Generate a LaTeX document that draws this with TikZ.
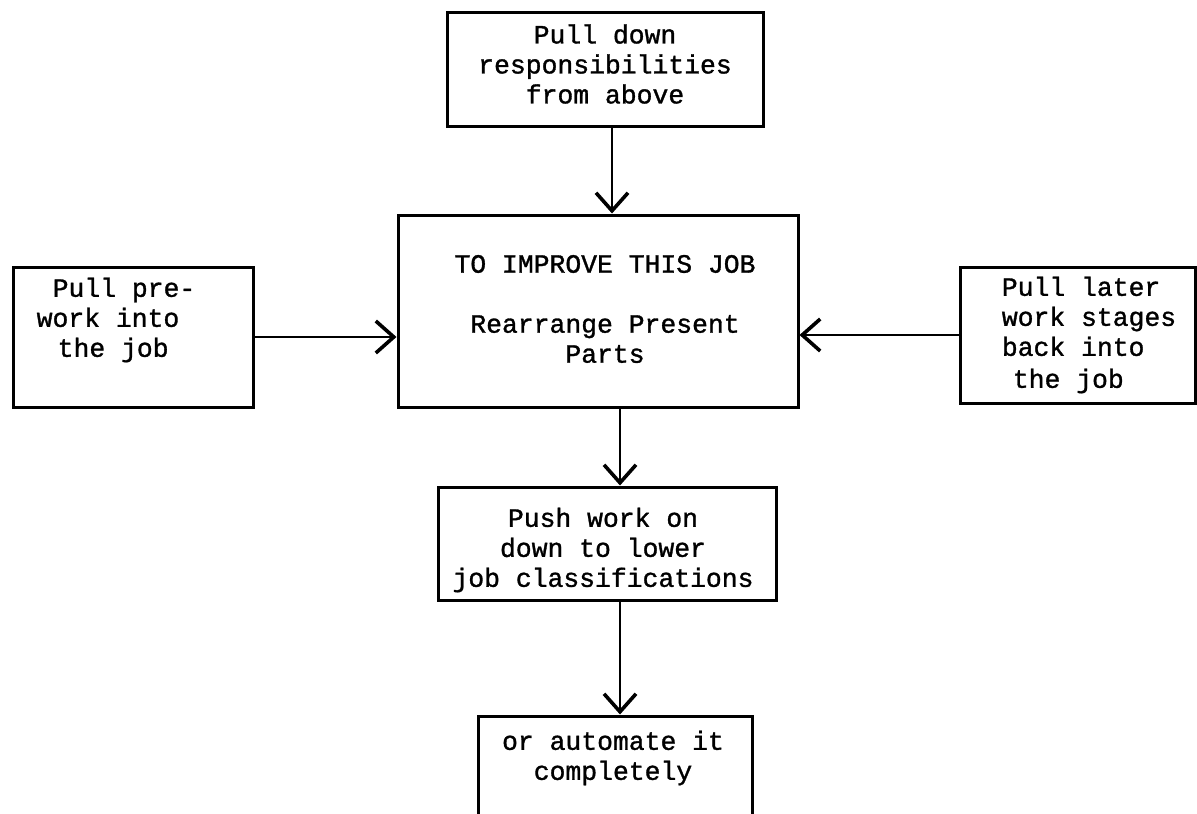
\documentclass[tikz,border=0pt]{standalone}
\usepackage{fontspec}
\setmainfont{Liberation Mono}
\newfontfamily\typew{Liberation Mono}[FakeBold=1.2]
\usetikzlibrary{arrows.meta}
\begin{document}
\begin{tikzpicture}[x=0.5pt,y=-0.5pt,
  box/.style={draw, line width=1.5pt, inner sep=0pt, rectangle},
  lbl/.style={font=\typew\fontsize{13.2pt}{15pt}\selectfont, inner sep=0pt},
  arr/.style={line width=1.4pt, -{Straight Barb[length=9pt,width=16pt,line width=1.8pt]}}]
\useasboundingbox (0,0) rectangle (1197,813);
\clip (0,0) rectangle (1197,813);
% boxes
\node[box, minimum width=158pt, minimum height=56.5pt] (top) at (605,69.5) {};
\node[box, minimum width=200pt, minimum height=96pt] (ctr) at (598,311) {};
\node[box, minimum width=120pt, minimum height=70pt] (lb) at (133,337) {};
\node[box, minimum width=117.5pt, minimum height=68pt] (rb) at (1077.5,335) {};
\node[box, minimum width=169pt, minimum height=56.5pt] (push) at (607,543.5) {};
\node[box, minimum width=137pt, minimum height=70pt] (bot) at (615,786) {};
% texts
\node[lbl, align=center] (topt) at (605,64) {Pull down\\responsibilities\\from above};
\node[lbl, align=center] (ctrt) at (605,309) {TO IMPROVE THIS JOB\\[15pt]Rearrange Present\\Parts};
\node[lbl, align=left] (lbt) at (116,320) {\hspace*{8pt}Pull pre-\\work into\\\hspace*{10.5pt}the job};
\node[lbl, align=left] (rbt) at (1089,335) {Pull later\\work stages\\back into\\[1pt]\hspace*{5.5pt}the job};
\node[lbl, align=center] (pusht) at (603,550) {Push work on\\down to lower\\job classifications};
\node[lbl, align=center] (bott) at (613,758) {or automate it\\completely};
% connectors
\draw[arr] ([xshift=3.5pt]top.south) -- ([xshift=3.5pt]top.south |- ctr.north);
\draw[arr] (lb.east) -- (lb.east -| ctr.west);
\draw[arr] (rb.west) -- (rb.west -| ctr.east);
\draw[arr] ([xshift=11pt]ctr.south) -- ([xshift=11pt]ctr.south |- push.north);
\draw[arr] ([xshift=6.5pt]push.south) -- ([xshift=6.5pt]push.south |- bot.north);
\end{tikzpicture}
\end{document}
